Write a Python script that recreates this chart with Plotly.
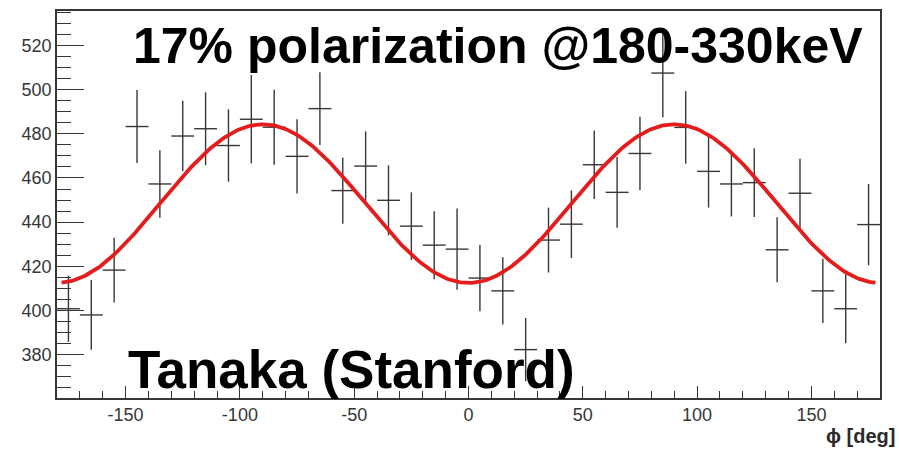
import numpy as np
import plotly.graph_objects as go

# Azimuthal scattering-angle histogram (10-degree bins) with its modulation fit
phi_centers = [-175, -165, -155, -145, -135, -125, -115, -105, -95, -85,
               -75, -65, -55, -45, -35, -25, -15, -5, 5, 15,
               25, 35, 45, 55, 65, 75, 85, 95, 105, 115,
               125, 135, 145, 155, 165, 175]
counts = [400.8, 398.0, 418.3, 483.3, 457.3, 479.0, 482.3, 474.7, 486.6, 483.0,
          469.8, 491.4, 454.3, 465.4, 449.9, 438.2, 429.6, 427.8, 414.7, 408.9,
          382.3, 431.9, 439.1, 466.0, 453.5, 471.1, 507.5, 482.9, 463.0, 457.3,
          457.9, 427.5, 453.1, 408.9, 400.8, 438.9]
count_errors = [15.0, 15.8, 14.7, 16.5, 15.3, 16.0, 16.5, 16.4, 20.0, 17.0,
                16.8, 16.5, 15.0, 15.7, 15.8, 15.3, 15.4, 18.4, 15.0, 15.2,
                14.3, 14.7, 15.3, 15.5, 16.0, 16.6, 20.0, 16.4, 16.4, 14.7,
                15.6, 14.7, 15.6, 14.5, 15.6, 18.4]
bin_half_width = 5

# Fit model: N(phi) = mean - amplitude * cos(2 phi)
fit_mean = 448.4
fit_amplitude = 35.9
fit_range = (-178, 178)

x_ticks = [-150, -100, -50, 0, 50, 100, 150]
y_ticks = [380, 400, 420, 440, 460, 480, 500, 520]

W, H = 899, 449
ML, MR, MT, MB = 57, 19, 9, 51
frame_color = "#3a3636"


def px_to_paper(px, py):
    return (px - ML) / (W - ML - MR), (H - MB - py) / (H - MT - MB)


fit_phi = np.linspace(fit_range[0], fit_range[1], 400)
fit_vals = fit_mean - fit_amplitude * np.cos(np.radians(2 * fit_phi))

fig = go.Figure()
fig.add_trace(go.Scatter(
    x=phi_centers, y=counts, mode="markers",
    marker=dict(size=1, color="rgba(0,0,0,0)"),
    error_x=dict(type="constant", value=bin_half_width, width=0,
                 thickness=1.4, color=frame_color),
    error_y=dict(type="data", array=count_errors, width=0,
                 thickness=1.4, color=frame_color),
    showlegend=False, hoverinfo="skip",
))
fig.add_trace(go.Scatter(
    x=fit_phi, y=fit_vals, mode="lines",
    line=dict(color="#e51c1c", width=3.8),
    showlegend=False, hoverinfo="skip",
))

tick_font = dict(family="Liberation Sans, Arial, sans-serif", size=18, color="#363636")

fig.update_xaxes(
    range=[-180, 180], tickvals=x_ticks, ticktext=[str(v) for v in x_ticks],
    ticks="inside", ticklen=12, tickwidth=1.3, tickcolor=frame_color,
    minor=dict(dtick=10, tick0=0, ticks="inside", ticklen=7,
               tickwidth=1.3, tickcolor=frame_color),
    showline=True, linecolor=frame_color, linewidth=1.6, mirror=True,
    showgrid=False, zeroline=False, tickfont=tick_font,
)
fig.update_yaxes(
    range=[360.4, 535.6], tickvals=y_ticks, ticktext=[str(v) for v in y_ticks],
    ticks="inside", ticklen=27, tickwidth=1.3, tickcolor=frame_color,
    minor=dict(dtick=5, tick0=0, ticks="inside", ticklen=14,
               tickwidth=1.3, tickcolor=frame_color),
    showline=True, linecolor=frame_color, linewidth=1.6, mirror=True,
    showgrid=False, zeroline=False, tickfont=tick_font,
)

annotations = []
tx, ty = px_to_paper(498, 44.5)
annotations.append(dict(
    x=tx, y=ty, xref="paper", yref="paper", xanchor="center", yanchor="middle",
    text="<b>17% polarization @180-330keV</b>", showarrow=False,
    font=dict(family="Liberation Sans, Arial, sans-serif", size=50, color="black"),
))
tx, ty = px_to_paper(351.5, 369)
annotations.append(dict(
    x=tx, y=ty, xref="paper", yref="paper", xanchor="center", yanchor="middle",
    text="<b>Tanaka (Stanford)</b>", showarrow=False,
    font=dict(family="Liberation Sans, Arial, sans-serif", size=53, color="black"),
))
tx, ty = px_to_paper(897, 436)
annotations.append(dict(
    x=tx, y=ty, xref="paper", yref="paper", xanchor="right", yanchor="middle",
    text="<b>\u03d5 [deg]</b>", showarrow=False,
    font=dict(family="Liberation Sans, Arial, sans-serif", size=20, color="#2a2a2a"),
))

fig.update_layout(
    width=W, height=H, margin=dict(l=ML, r=MR, t=MT, b=MB),
    plot_bgcolor="white", paper_bgcolor="white",
    annotations=annotations,
)

fig.write_html("out.html")
